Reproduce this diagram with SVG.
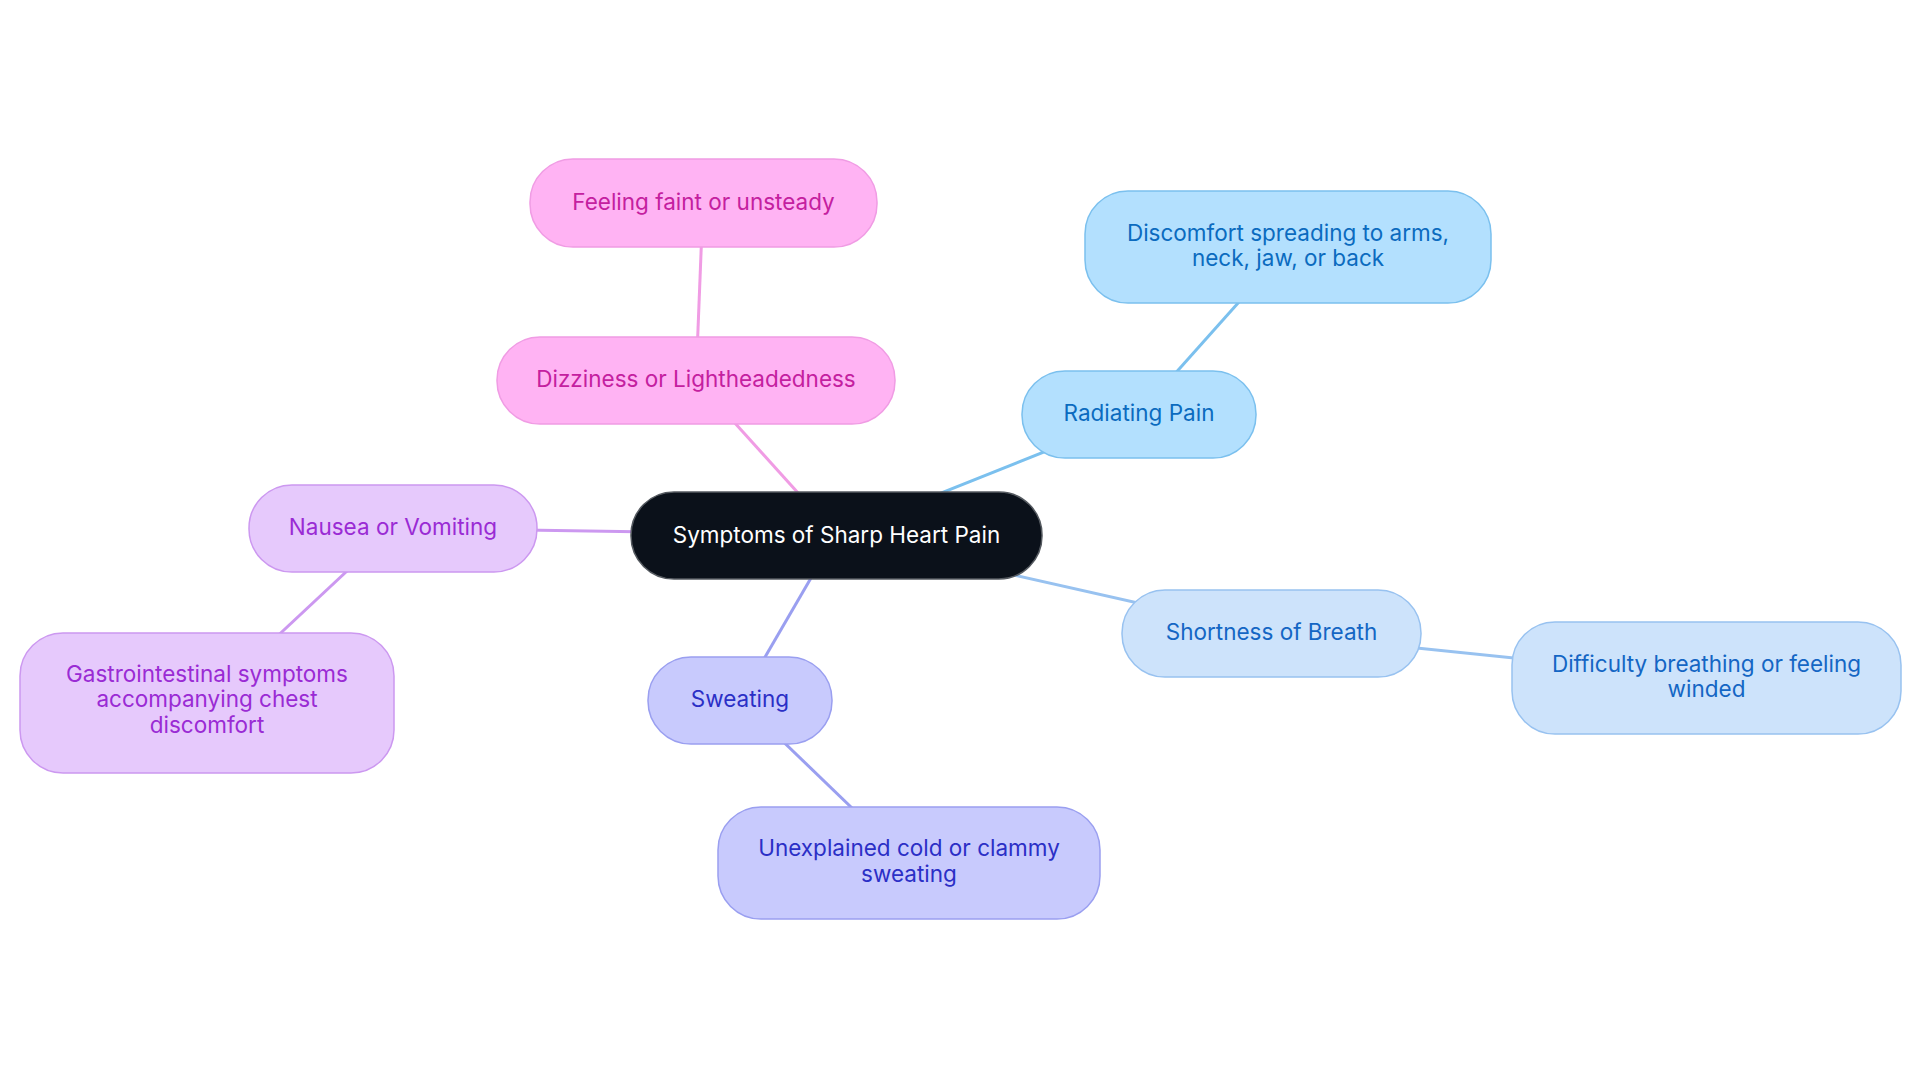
<svg xmlns="http://www.w3.org/2000/svg" width="1920" height="1083" viewBox="0 0 1920 1083">
<style>
text{font-family:Inter,"Noto Sans","Liberation Sans",sans-serif;font-size:22.5px;text-anchor:middle}
.e{stroke-width:3;fill:none}
rect{stroke-width:1.5}
.pink rect{fill:#FFB3F3;stroke:#F09CE4}.pink text{fill:#C4209F}
.sky rect{fill:#B3E0FE;stroke:#7BC0EE}.sky text{fill:#0B6BBF}
.pale rect{fill:#CDE3FB;stroke:#98C2F0}.pale text{fill:#1466C4}
.purp rect{fill:#E6C9FC;stroke:#CC98F0}.purp text{fill:#9A2BD4}
.ind rect{fill:#C8CAFD;stroke:#9A9FF0}.ind text{fill:#2B2FC6}
</style>
<rect width="1920" height="1083" fill="#ffffff"/>
<g id="connectors">
<line class="e" x1="836" y1="535" x2="696" y2="380" stroke="#F09CE4"/>
<line class="e" x1="696" y1="380" x2="703" y2="203" stroke="#F09CE4"/>
<line class="e" x1="836" y1="535" x2="1139" y2="414" stroke="#7BC0EE"/>
<line class="e" x1="1139" y1="414" x2="1288" y2="247" stroke="#7BC0EE"/>
<line class="e" x1="836" y1="535" x2="1271" y2="633" stroke="#98C2F0"/>
<line class="e" x1="1271" y1="633" x2="1707" y2="678" stroke="#98C2F0"/>
<line class="e" x1="836" y1="535" x2="393" y2="528" stroke="#CC98F0"/>
<line class="e" x1="393" y1="528" x2="207" y2="702" stroke="#CC98F0"/>
<line class="e" x1="836" y1="535" x2="740" y2="700" stroke="#9A9FF0"/>
<line class="e" x1="740" y1="700" x2="909" y2="863" stroke="#9A9FF0"/>
</g>
<g id="root">
<rect x="631" y="492" width="411" height="87" rx="43" fill="#0B111A" stroke="#555a60" stroke-width="1.5"/>
<text x="836.5" y="542.5" fill="#ffffff">Symptoms of Sharp Heart Pain</text>
</g>
<g id="dizziness" class="pink">
<rect x="497" y="337" width="398" height="87" rx="43"/>
<text x="696" y="387">Dizziness or Lightheadedness</text>
</g>
<g id="faint" class="pink">
<rect x="530" y="159" width="347" height="88" rx="43"/>
<text x="703.5" y="210">Feeling faint or unsteady</text>
</g>
<g id="radiating" class="sky">
<rect x="1022" y="371" width="234" height="87" rx="43"/>
<text x="1139" y="421">Radiating Pain</text>
</g>
<g id="discomfort" class="sky">
<rect x="1085" y="191" width="406" height="112" rx="43"/>
<text x="1288" y="241">Discomfort spreading to arms,</text>
<text x="1288" y="266">neck, jaw, or back</text>
</g>
<g id="shortness" class="pale">
<rect x="1122" y="590" width="299" height="87" rx="43"/>
<text x="1271.5" y="640">Shortness of Breath</text>
</g>
<g id="difficulty" class="pale">
<rect x="1512" y="622" width="389" height="112" rx="43"/>
<text x="1706.5" y="672">Difficulty breathing or feeling</text>
<text x="1706.5" y="697">winded</text>
</g>
<g id="nausea" class="purp">
<rect x="249" y="485" width="288" height="87" rx="43"/>
<text x="393" y="535">Nausea or Vomiting</text>
</g>
<g id="gastro" class="purp">
<rect x="20" y="633" width="374" height="140" rx="43"/>
<text x="207" y="682">Gastrointestinal symptoms</text>
<text x="207" y="707">accompanying chest</text>
<text x="207" y="733">discomfort</text>
</g>
<g id="sweating" class="ind">
<rect x="648" y="657" width="184" height="87" rx="43"/>
<text x="740" y="707">Sweating</text>
</g>
<g id="unexplained" class="ind">
<rect x="718" y="807" width="382" height="112" rx="43"/>
<text x="909" y="856">Unexplained cold or clammy</text>
<text x="909" y="882">sweating</text>
</g>
</svg>
